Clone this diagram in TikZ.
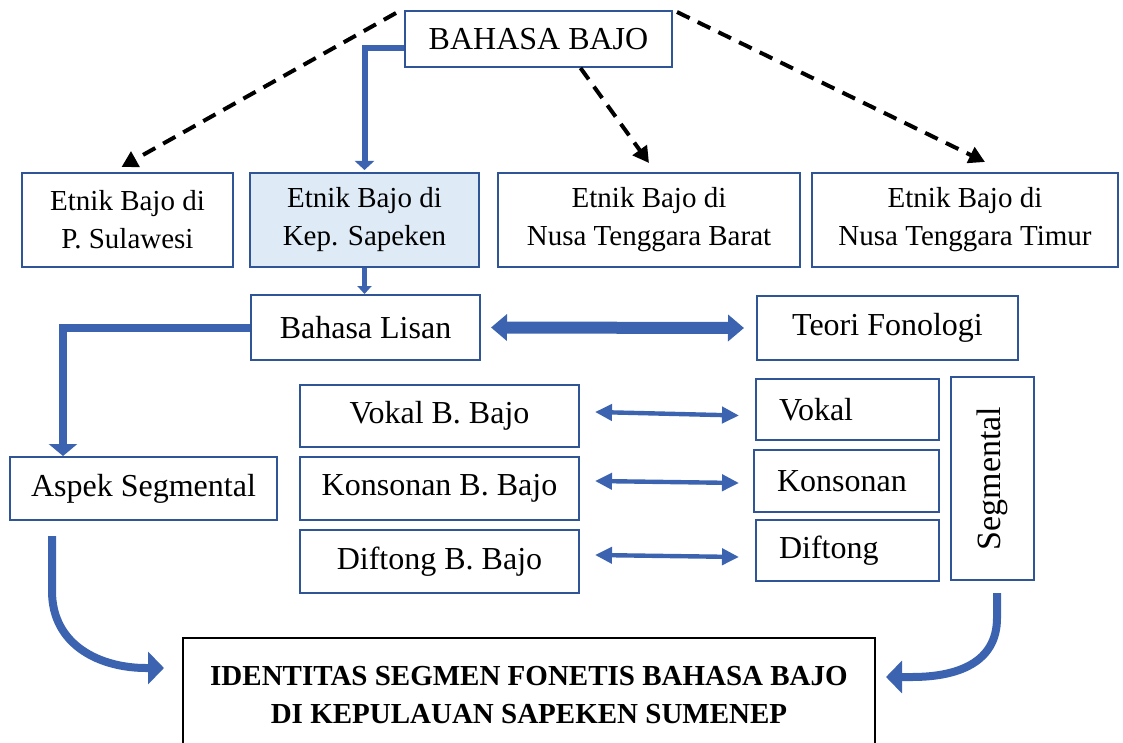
\documentclass[tikz,border=0pt]{standalone}
\usepackage{fontspec}
\setmainfont{Liberation Serif}
\usetikzlibrary{arrows.meta,calc}
\definecolor{bbord}{HTML}{2F5597}
\definecolor{barrow}{HTML}{3C63B0}
\definecolor{sapfill}{HTML}{DEEBF7}
\begin{document}
\begin{tikzpicture}[x=0.5pt,y=-0.5pt,
  box/.style={draw=bbord, line width=1pt, inner sep=0pt, align=center, font=\fontsize{16}{19}\selectfont},
  etn/.style={box, minimum height=47pt, font=\fontsize{14.5}{19}\selectfont},
  sbox/.style={box, align=left, inner xsep=11.5pt},
  dsh/.style={draw=black, line width=2pt, dash pattern=on 7pt off 4.5pt, -{Triangle[length=8pt,width=8.5pt]}},
  blu/.style={draw=barrow, line join=miter},
  thin2/.style={blu, line width=2.2pt, {Triangle[length=8.5pt,width=8pt]}-{Triangle[length=8.5pt,width=8pt]}}
]
\useasboundingbox (0,0) rectangle (1123,743);

\node[box, minimum width=133.5pt, minimum height=28pt] (bahasa) at (538.5,39) {BAHASA BAJO};
\node[etn, minimum width=105.5pt] (sul) at (127.5,220) {\raisebox{-2pt}{Etnik Bajo di}\\\raisebox{-2pt}{P. Sulawesi}};
\node[etn, minimum width=114.5pt, fill=sapfill] (sap) at (364.5,220) {\raisebox{-2pt}{Etnik Bajo di}\\\raisebox{-2pt}{Kep. Sapeken}};
\node[etn, minimum width=151pt] (ntb) at (649,220) {\raisebox{-2pt}{Etnik Bajo di}\\\raisebox{-2pt}{Nusa Tenggara Barat}};
\node[etn, minimum width=153pt] (ntt) at (965,220) {\raisebox{-2pt}{Etnik Bajo di}\\\raisebox{-2pt}{Nusa Tenggara Timur}};
\node[box, minimum width=114.5pt, minimum height=32.5pt] (lisan) at (365.5,327.5) {Bahasa Lisan};
\node[box, minimum width=130.5pt, minimum height=32pt] (teori) at (887.5,328) {Teori Fonologi};
\node[box, minimum width=139.5pt, minimum height=31pt] (vokb) at (439.5,416) {Vokal B. Bajo};
\node[box, minimum width=139.5pt, minimum height=31.5pt] (konb) at (439.5,488.5) {Konsonan B. Bajo};
\node[box, minimum width=139.5pt, minimum height=31.5pt] (difb) at (439.5,561.5) {Diftong B. Bajo};
\node[sbox, text width=68.5pt, minimum height=30.5pt] (vok) at (847.5,409.5) {Vokal};
\node[sbox, text width=69.5pt, minimum height=31pt] (kon) at (846.5,481) {Konsonan};
\node[sbox, text width=68.5pt, minimum height=30.5pt] (dif) at (847.5,550.5) {Diftong};
\node[box, rotate=90, minimum width=101.5pt, minimum height=41.5pt, font=\fontsize{17}{19}\selectfont] (seg) at (992.5,478.5) {Segmental};
\node[box, minimum width=133.5pt, minimum height=31.5pt] (aspek) at (143.5,488.5) {Aspek Segmental};
\node[box, draw=black, minimum width=346pt, minimum height=57pt, font=\bfseries\fontsize{14.5}{19}\selectfont] (ident) at (529,695) {IDENTITAS SEGMEN FONETIS BAHASA BAJO\\DI KEPULAUAN SAPEKEN SUMENEP};

% dashed
\draw[dsh] ([xshift=-4pt,yshift=-1.5pt]bahasa.north west) -- ([xshift=-3pt,yshift=2.5pt]sul.north);
\draw[dsh] ([xshift=21pt]bahasa.south) -- ([yshift=4.5pt]ntb.north);
\draw[dsh] ([xshift=2pt,yshift=-1pt]bahasa.north east) -- ([xshift=10pt,yshift=5pt]ntt.north);

% blue connectors
\draw[blu, line width=3pt, -{Triangle[length=4.5pt,width=9.5pt]}] ([yshift=-4.5pt]bahasa.west) -| ([yshift=1pt]sap.north);
\draw[blu, line width=2.5pt, -{Triangle[length=4pt,width=7pt]}] (sap.south) -- (sap.south |- lisan.north);
\draw[blu, line width=4pt, -{Triangle[length=6pt,width=14pt]}] ([yshift=-0.25pt]lisan.west) -| ([xshift=-40.25pt]aspek.north);
\draw[blu, line width=6pt, {Triangle[length=8pt,width=13pt]}-{Triangle[length=8pt,width=13pt]}] ([xshift=5pt]lisan.east) -- ([xshift=-6pt]teori.west);

\draw[thin2] ([xshift=7.5pt,yshift=2pt]vokb.east) -- ([xshift=-8pt,yshift=-3pt]vok.west);
\draw[thin2] ([xshift=7.5pt,yshift=3.75pt]konb.east) -- ([xshift=-7pt,yshift=-1pt]kon.west);
\draw[thin2] ([xshift=7.5pt,yshift=3.25pt]difb.east) -- ([xshift=-8pt,yshift=-3.25pt]dif.west);

% curved
\draw[blu, line width=4pt, -{Triangle[length=8pt,width=16pt]}] ([xshift=-45.75pt,yshift=-7.5pt]aspek.south) -- ++(0,55) .. controls +(0,55) and +(-45,0) .. ([xshift=-18pt,yshift=13.5pt]ident.west) -- ([xshift=-9pt,yshift=13.5pt]ident.west);
\draw[blu, line width=4pt, -{Triangle[length=8pt,width=16pt]}] ([xshift=2.25pt,yshift=-6pt]seg.west) -- ++(0,25) .. controls +(0,45) and +(45,0) .. ([xshift=18pt,yshift=9pt]ident.east) -- ([xshift=5pt,yshift=9pt]ident.east);
\end{tikzpicture}
\end{document}
